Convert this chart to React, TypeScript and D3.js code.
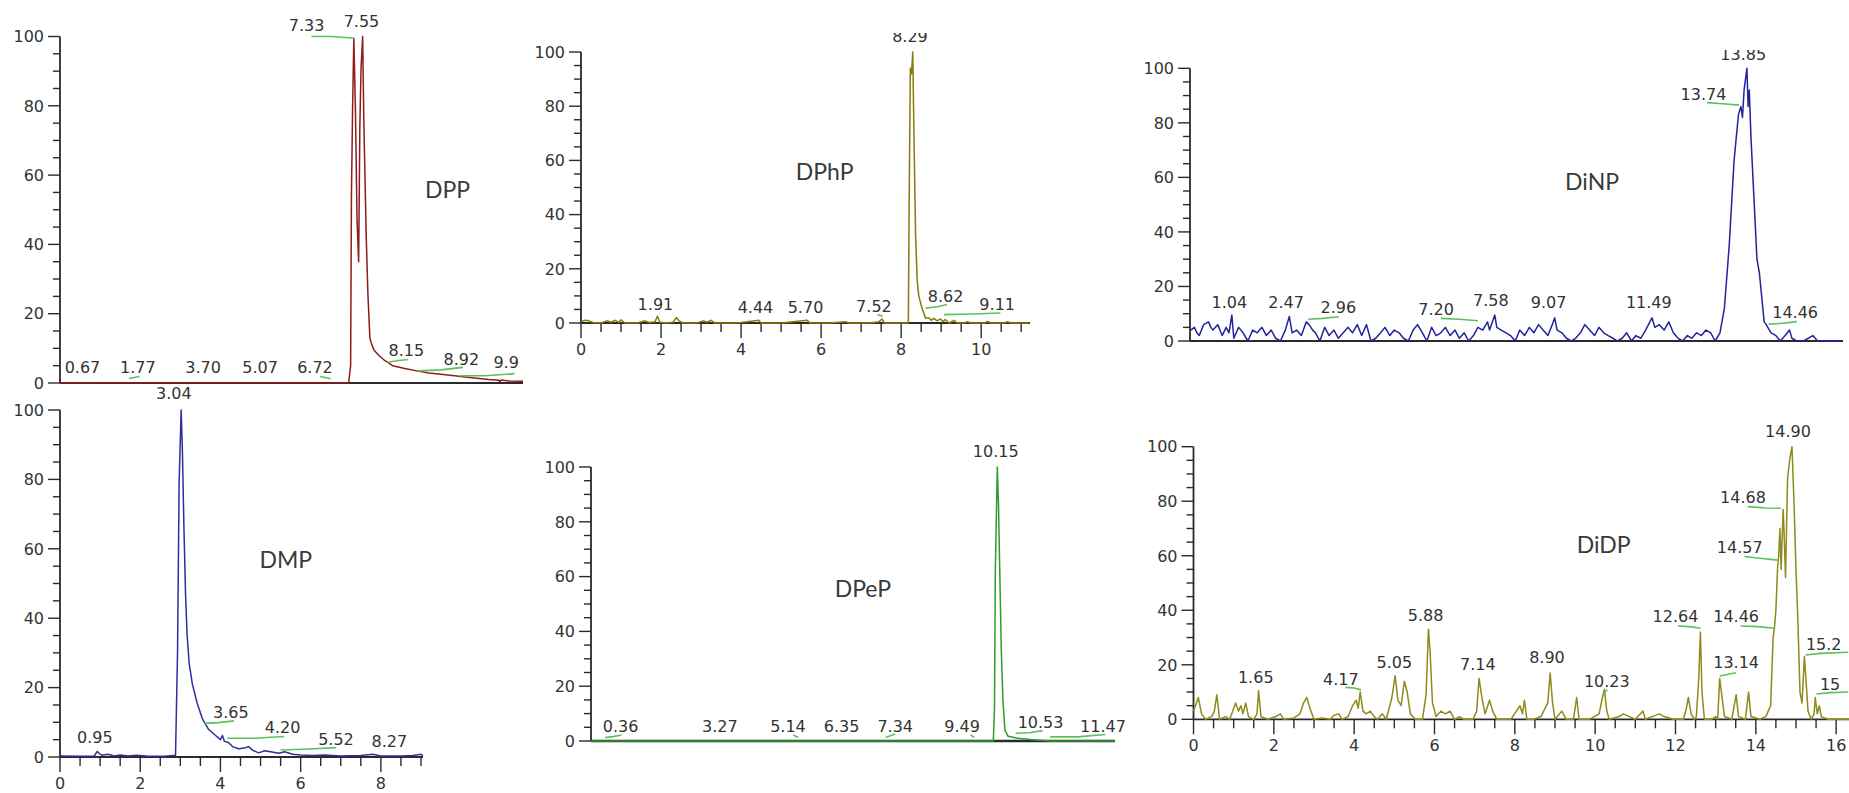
import React from "react";
import * as d3 from "d3";

type Pt = [number, number];
type Lbl = [string, number, number];

// ---------------- DATA ----------------
// DPP
const dppTrace: Pt[] = [[0,0],[3,0.1],[7.2,0],[7.25,5],[7.27,54],[7.3,80],[7.33,99.5],[7.37,79],[7.41,47],[7.45,35],[7.48,74],[7.51,91],[7.55,100],[7.58,75],[7.64,42],[7.68,26],[7.73,13],[7.78,11],[7.83,9.5],[7.95,8],[8.1,6.5],[8.3,5],[8.6,4.2],[8.9,3.5],[9.2,2.9],[9.5,2.5],[9.9,2.0],[10.1,1.7],[10.4,1.4],[10.7,1.0],[10.95,0.8],[10.97,0.2],[11.0,0.9],[11.2,0.6],[11.55,0.5]];
const dppLabels: Lbl[] = [["0.67",0.56,3.0],["1.77",1.94,3.0],["3.70",3.57,3.0],["5.07",4.99,3.0],["6.72",6.36,3.0],["7.33",6.15,101.7],["7.55",7.52,102.8],["8.15",8.64,7.8],["8.92",10.01,5.2],["9.9",11.13,4.2]];
const dppMarks: Pt[][] = [[[1.72,1.3],[1.98,1.9]],[[6.49,1.9],[6.75,1.2]],[[6.27,100],[6.79,100],[7.35,99.5]],[[8.16,6],[8.45,6.5],[8.68,6.8]],[[8.94,3.5],[9.5,3.8],[10.05,4.5]],[[9.97,2.1],[10.6,2.1],[11.34,2.7]]];

// DMP
const dmpTrace: Pt[] = [[0,0.3],[0.5,0.2],[0.85,0.3],[0.93,1.6],[0.98,1.0],[1.05,0.5],[1.2,0.8],[1.35,0.3],[1.5,0.6],[1.7,0.3],[1.9,0.5],[2.2,0.2],[2.6,0.2],[2.88,0.5],[2.93,30],[2.97,79],[3.02,100],[3.05,89],[3.09,66],[3.13,47],[3.17,35],[3.22,27],[3.3,21],[3.42,15.5],[3.55,11],[3.7,8],[3.85,6.5],[4.0,5],[4.05,6.2],[4.1,4.5],[4.2,4.2],[4.3,3],[4.45,2.4],[4.6,2.6],[4.7,3],[4.8,2],[4.95,1.2],[5.1,1.8],[5.25,1.5],[5.45,1.1],[5.6,1.5],[5.8,0.8],[6.0,0.6],[6.3,0.4],[6.6,0.6],[7.0,0.3],[7.5,0.4],[7.8,0.8],[8.0,0.3],[8.5,0.3],[8.8,0.4],[9.0,0.8],[9.05,0.3]];
const dmpLabels: Lbl[] = [["3.04",2.84,103.2],["0.95",0.87,3.9],["3.65",4.26,11.2],["4.20",5.55,6.8],["5.52",6.88,3.5],["8.27",8.21,3.0]];
const dmpMarks: Pt[][] = [[[3.61,9.7],[3.95,9.9],[4.34,10.4]],[[4.17,5.4],[4.85,5.4],[5.59,5.9]],[[5.5,2.0],[6.2,2.3],[6.88,2.7]]];

// DPhP
const dphpTrace: Pt[] = [[0,0.5],[0.1,1],[0.2,0.8],[0.3,0.2],[0.5,0],[0.65,0.8],[0.75,0.3],[0.85,1],[0.95,0.2],[1.0,1.2],[1.1,0],[1.4,0],[1.6,0.8],[1.7,0.2],[1.85,0.5],[1.91,2.5],[1.97,0.3],[2.1,0],[2.3,0.3],[2.38,2],[2.45,0.8],[2.55,0],[2.9,0],[3.05,0.8],[3.15,0.3],[3.25,1],[3.35,0],[3.8,0],[4.0,0.2],[4.44,1],[4.5,0],[5.0,0],[5.65,1],[5.72,0],[6.2,0],[6.6,0.5],[6.7,0],[7.2,0],[7.45,0.5],[7.52,1.5],[7.58,0],[8.18,0],[8.2,44],[8.23,94],[8.26,92],[8.29,100],[8.32,70],[8.36,33],[8.4,16],[8.44,10],[8.52,5.5],[8.61,1.8],[8.7,1.8],[8.75,1],[8.82,1.7],[8.9,0.8],[8.98,1.5],[9.05,0.5],[9.1,1.3],[9.2,0],[9.32,1],[9.4,0],[9.6,0],[9.65,0.5],[9.75,0],[10.1,0],[10.15,0.6],[10.25,0],[10.6,0],[10.65,0.5],[10.75,0],[11.2,0]];
const dphpLabels: Lbl[] = [["8.29",8.22,103.8],["1.91",1.86,4.8],["4.44",4.36,3.6],["5.70",5.61,3.6],["7.52",7.32,4.2],["8.62",9.11,7.9],["9.11",10.4,4.8]];
const dphpMarks: Pt[][] = [[[7.41,3.1],[7.54,2.5]],[[8.61,5.5],[8.9,6],[9.15,6.8]],[[9.07,3.1],[9.8,3.3],[10.48,3.7]]];

// DPeP
const dpepTrace: Pt[] = [[0,0],[10.05,0],[10.08,12],[10.1,62],[10.15,100],[10.18,86],[10.21,63],[10.25,33],[10.29,15],[10.34,4],[10.42,1.7],[10.66,1],[11.04,0.5],[11.5,0],[13.09,0]];
const dpepLabels: Lbl[] = [["10.15",10.11,103.7],["0.36",0.74,3.4],["3.27",3.22,3.4],["5.14",4.92,3.4],["6.35",6.26,3.4],["7.34",7.6,3.4],["9.49",9.27,3.4],["10.53",11.23,4.7],["11.47",12.79,3.4]];
const dpepMarks: Pt[][] = [[[0.35,1.3],[0.55,1.6],[0.76,2.2]],[[5.05,2.2],[5.18,1.3]],[[7.36,1.3],[7.6,2.6]],[[9.48,2.2],[9.58,1.3]],[[10.61,2.8],[10.95,3.0],[11.28,3.8]],[[11.47,1.5],[12.15,1.5],[12.85,2.4]]];

// DiNP
const dinpTrace: Pt[] = [[0.02,4],[0.11,5],[0.17,3],[0.23,2],[0.34,6],[0.46,7],[0.52,5],[0.57,4],[0.69,6],[0.8,2],[0.9,5],[0.97,3],[1.04,9.5],[1.09,1],[1.15,3],[1.21,5],[1.32,3],[1.44,0],[1.5,2],[1.56,4],[1.67,3],[1.79,5],[1.9,2],[2.02,4],[2.13,1],[2.25,0],[2.37,4],[2.47,9],[2.54,3],[2.65,4],[2.77,2],[2.89,7],[2.96,6],[3.05,4],[3.12,3],[3.23,0],[3.35,5],[3.46,2],[3.58,4],[3.69,1],[3.81,3],[3.93,5],[4.04,3],[4.16,6],[4.27,2],[4.39,6],[4.5,0],[4.62,1],[4.74,3],[4.85,5],[4.97,2],[5.08,4],[5.2,3],[5.31,1],[5.43,0],[5.55,4],[5.66,6],[5.78,3],[5.89,0],[6.01,5],[6.12,2],[6.24,3],[6.35,5],[6.47,2],[6.59,4],[6.7,1],[6.82,3],[6.93,0],[7.05,2],[7.16,5],[7.28,4],[7.4,7],[7.45,4],[7.58,9.5],[7.63,5],[7.74,4],[7.86,3],[7.97,2],[8.09,0],[8.2,4],[8.32,2],[8.44,5],[8.55,3],[8.67,6],[8.78,4],[8.9,2],[9.01,6],[9.07,8.5],[9.13,4],[9.25,3],[9.36,1],[9.48,0],[9.59,1],[9.71,3],[9.82,6],[9.94,4],[10.06,2],[10.17,5],[10.29,3],[10.4,2],[10.52,1],[10.63,0],[10.75,1],[10.86,3],[10.98,0],[11.09,2],[11.21,1],[11.33,4],[11.49,8.5],[11.56,5],[11.67,6],[11.79,4],[11.91,7],[12.02,3],[12.14,1],[12.25,0],[12.37,2],[12.48,1],[12.6,3],[12.72,2],[12.83,4],[12.95,3],[13.06,0],[13.18,3],[13.29,12],[13.41,35],[13.53,66],[13.64,83],[13.7,86],[13.74,82],[13.78,92],[13.85,100],[13.88,86],[13.91,92],[13.95,75],[14.0,60],[14.1,30],[14.16,25],[14.28,7],[14.33,6],[14.45,3],[14.57,2],[14.68,0],[14.8,2],[14.91,4],[14.97,1],[15.09,0],[15.26,0],[15.49,2],[15.61,0],[16.2,0]];
const dinpLabels: Lbl[] = [["13.85",13.76,103],["13.74",12.77,88.4],["1.04",0.98,12],["2.47",2.39,12],["2.96",3.69,10.2],["7.20",6.12,9.5],["7.58",7.48,12.8],["9.07",8.92,12],["11.49",11.41,12],["14.46",15.05,8.3]];
const dinpMarks: Pt[][] = [[[12.86,87.4],[13.25,87],[13.66,86.5]],[[2.94,8.0],[3.3,8.3],[3.7,8.9]],[[6.24,8.3],[6.7,8],[7.16,7.4]],[[14.39,6.2],[14.74,6.5],[15.09,7.1]]];

// DiDP
const didpTrace: Pt[] = [[0.0,3],[0.05,5],[0.12,8],[0.2,2],[0.3,0],[0.45,1],[0.52,3],[0.58,9],[0.65,0],[0.8,1],[0.9,0],[1.0,4],[1.05,6],[1.12,3],[1.18,5],[1.23,2],[1.3,6],[1.37,1],[1.5,0],[1.58,2],[1.62,10.5],[1.68,1],[1.85,0],[2.05,1],[2.16,2],[2.25,0],[2.5,0.5],[2.65,2],[2.74,6],[2.82,8],[2.9,4],[3.0,0],[3.2,0.5],[3.4,0],[3.5,1.5],[3.62,2],[3.7,0],[3.85,1],[3.96,5],[4.05,7],[4.1,4],[4.15,10],[4.22,3],[4.3,2],[4.4,3],[4.5,1],[4.58,0],[4.7,2],[4.8,0],[4.94,8],[5.02,16],[5.09,7],[5.17,5],[5.25,14],[5.32,10],[5.4,2],[5.52,0],[5.7,0],[5.79,9],[5.85,33],[5.89,25],[5.95,6],[6.04,1],[6.16,3],[6.27,2],[6.39,3],[6.5,0],[6.62,1],[6.73,0],[6.96,0],[7.05,3],[7.11,15],[7.18,8],[7.26,2],[7.37,7],[7.45,3],[7.55,0],[7.9,0],[8.13,5],[8.19,2],[8.24,7],[8.3,0],[8.47,0],[8.65,1],[8.82,6],[8.88,17],[8.94,6],[9.0,0],[9.17,3],[9.28,0],[9.46,0],[9.54,8],[9.6,0],[9.86,0],[10.1,2],[10.18,8],[10.23,11],[10.29,3],[10.35,0],[10.6,1],[10.7,2],[10.85,1],[11.0,0],[11.19,3],[11.25,0],[11.6,2],[11.72,1],[11.95,0],[12.2,0],[12.27,4],[12.32,8],[12.39,2],[12.47,0],[12.52,1],[12.58,15],[12.62,32],[12.66,10],[12.72,0],[12.9,0],[13.0,1],[13.05,0],[13.1,15],[13.16,8],[13.22,1],[13.4,0],[13.51,9],[13.57,1],[13.74,0],[13.82,10],[13.88,1],[14.1,0],[14.25,1],[14.37,5],[14.43,30],[14.46,33],[14.5,40],[14.54,55],[14.57,60],[14.6,70],[14.63,55],[14.68,77],[14.7,70],[14.74,52],[14.79,88],[14.84,95],[14.9,100],[14.95,80],[15.0,55],[15.05,35],[15.1,10],[15.15,6],[15.21,23],[15.26,12],[15.3,3],[15.38,0],[15.45,2],[15.48,8],[15.53,2],[15.58,5],[15.63,1],[15.8,0],[16.1,0],[16.32,0]];
const didpLabels: Lbl[] = [["14.90",14.8,103.7],["14.68",13.68,79.2],["14.57",13.6,60.9],["14.46",13.51,35.8],["12.64",12.0,35.8],["13.14",13.51,18.7],["15.2",15.69,25.4],["15",15.85,10.8],["10.23",10.29,12],["8.90",8.8,20.5],["7.14",7.08,18],["5.88",5.78,36.2],["5.05",5.0,18.7],["4.17",3.67,12.6],["1.65",1.55,13.2]];
const didpMarks: Pt[][] = [[[3.78,11.7],[4.0,11.5],[4.17,10.8]],[[10.21,9.5],[10.3,10.8]],[[12.06,34.2],[12.35,34],[12.62,33.4]],[[13.1,15.9],[13.51,17.1]],[[13.62,34.2],[14.05,34],[14.47,33.4]],[[13.72,59.7],[14.15,59],[14.55,58.4]],[[13.8,78],[14.25,77.5],[14.63,77.4]],[[15.24,23.6],[15.6,24.2],[16.3,24.6]],[[15.51,9.3],[15.85,9.8],[16.3,10]]];

const yTickLabels = [0, 20, 40, 60, 80, 100];

// ---------------- LAYOUT ----------------
interface PanelCfg {
  title: string; titlePos: Pt;
  trace: Pt[]; labels: Lbl[]; marks: Pt[][];
  color: string;
  left: number; right: number; tMax: number; y0: number; y100: number;
  xMajor: number[] | null; xMinorMax: number;
  axisW: number; clipTop: number;
}

const panels: PanelCfg[] = [
  { title: "DPP", titlePos: [9.67, 53.3], trace: dppTrace, labels: dppLabels, marks: dppMarks, color: "#8e1c1c",
    left: 60, right: 523, tMax: 11.55, y0: 383, y100: 36.5, xMajor: null, xMinorMax: 0, axisW: 2.2, clipTop: 0 },
  { title: "DMP", titlePos: [5.63, 54.5], trace: dmpTrace, labels: dmpLabels, marks: dmpMarks, color: "#2e2e9c",
    left: 60, right: 423, tMax: 9.05, y0: 757, y100: 410, xMajor: [0, 2, 4, 6, 8], xMinorMax: 9, axisW: 1.8, clipTop: 0 },
  { title: "DPhP", titlePos: [6.09, 52.8], trace: dphpTrace, labels: dphpLabels, marks: dphpMarks, color: "#857c08",
    left: 581, right: 1030, tMax: 11.22, y0: 323, y100: 52, xMajor: [0, 2, 4, 6, 8, 10], xMinorMax: 11, axisW: 1.8, clipTop: 33 },
  { title: "DPeP", titlePos: [6.79, 52.7], trace: dpepTrace, labels: dpepLabels, marks: dpepMarks, color: "#2f9a2f",
    left: 591, right: 1115, tMax: 13.09, y0: 741, y100: 467, xMajor: null, xMinorMax: 0, axisW: 2.6, clipTop: 0 },
  { title: "DiNP", titlePos: [10.0, 55.4], trace: dinpTrace, labels: dinpLabels, marks: dinpMarks, color: "#23239a",
    left: 1190, right: 1843, tMax: 16.24, y0: 341, y100: 68.3, xMajor: null, xMinorMax: 0, axisW: 1.8, clipTop: 50 },
  { title: "DiDP", titlePos: [10.21, 60.9], trace: didpTrace, labels: didpLabels, marks: didpMarks, color: "#8f8a1c",
    left: 1193.5, right: 1849, tMax: 16.32, y0: 719.3, y100: 446.7, xMajor: [0, 2, 4, 6, 8, 10, 12, 14, 16], xMinorMax: 16, axisW: 1.8, clipTop: 0 },
];

const AXIS = "#2a2a2a";
const TEXT = "#333333";
const GREEN = "#5cc15c";
const FONT = "'DejaVu Sans', Verdana, sans-serif";

function Panel({ cfg, idx }: { cfg: PanelCfg; idx: number }) {
  const x = d3.scaleLinear().domain([0, cfg.tMax]).range([cfg.left, cfg.right]);
  const y = d3.scaleLinear().domain([0, 100]).range([cfg.y0, cfg.y100]);
  const line = d3.line<Pt>().x((d) => x(d[0])).y((d) => y(d[1]));
  const yMinor = d3.range(0, 101, 5);
  const xMinor = cfg.xMajor ? d3.range(0, cfg.xMinorMax + 0.001, 0.5) : [];
  const clipId = "clip" + idx;
  return (
    <g>
      <defs>
        <clipPath id={clipId}>
          <rect x={0} y={cfg.clipTop} width={1849} height={793 - cfg.clipTop} />
        </clipPath>
      </defs>
      {/* y axis */}
      <line x1={cfg.left} x2={cfg.left} y1={y(100)} y2={y(0)} stroke={AXIS} strokeWidth={1.8} />
      {yMinor.map((v) => (
        <line key={"ym" + v} x1={cfg.left - (v % 20 === 0 ? 12 : 7)} x2={cfg.left} y1={y(v)} y2={y(v)} stroke={AXIS} strokeWidth={1.4} />
      ))}
      {yTickLabels.map((v) => (
        <text key={"yl" + v} x={cfg.left - 16} y={y(v)} dy="0.36em" textAnchor="end" fontFamily={FONT} fontSize={16} fill={TEXT}>{v}</text>
      ))}
      {/* x axis */}
      <line x1={cfg.left} x2={cfg.right} y1={y(0)} y2={y(0)} stroke={AXIS} strokeWidth={cfg.axisW} />
      {xMinor.map((t) => (
        <line key={"xm" + t} x1={x(t)} x2={x(t)} y1={y(0)} y2={y(0) + (t % 2 === 0 ? 15 : 9)} stroke={AXIS} strokeWidth={1.4} />
      ))}
      {(cfg.xMajor || []).map((t) => (
        <text key={"xl" + t} x={x(t)} y={y(0) + 26} dy="0.36em" textAnchor="middle" fontFamily={FONT} fontSize={16} fill={TEXT}>{t}</text>
      ))}
      <g clipPath={`url(#${clipId})`}>
        {/* trace */}
        <path d={line(cfg.trace) || ""} fill="none" stroke={cfg.color} strokeWidth={1.5} strokeLinejoin="round" />
        {/* integration marks */}
        {cfg.marks.map((m, i) => (
          <path key={"mk" + i} d={line(m) || ""} fill="none" stroke={GREEN} strokeWidth={1.6} />
        ))}
        {/* peak labels */}
        {cfg.labels.map((l, i) => (
          <text key={"pl" + i} x={x(l[1])} y={y(l[2])} textAnchor="middle" fontFamily={FONT} fontSize={16} fill={TEXT}>{l[0]}</text>
        ))}
      </g>
      {/* title */}
      <text x={x(cfg.titlePos[0])} y={y(cfg.titlePos[1])} textAnchor="middle" fontFamily="Lato, 'Open Sans', sans-serif" fontSize={23} fill="#3a3a3a">{cfg.title}</text>
    </g>
  );
}

export default function App() {
  return (
    <svg width={1849} height={793} viewBox="0 0 1849 793" style={{ position: "absolute", left: 0, top: 0, background: "#ffffff" }}>
      <rect x={0} y={0} width={1849} height={793} fill="#ffffff" />
      {panels.map((p, i) => (
        <Panel key={p.title} cfg={p} idx={i} />
      ))}
    </svg>
  );
}
